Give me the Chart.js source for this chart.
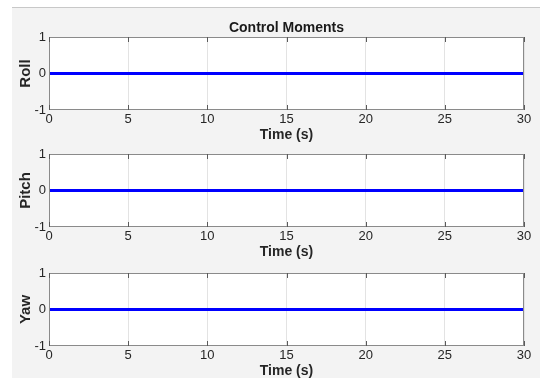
<!DOCTYPE html>
<html>
<head>
<meta charset="utf-8">
<script src="https://cdn.jsdelivr.net/npm/chart.js@4/dist/chart.umd.min.js"></script>
<style>
  html, body { margin: 0; padding: 0; background: #ffffff; width: 540px; height: 378px; overflow: hidden; }
  #fig { position: absolute; left: 12px; top: 7px; width: 528px; height: 371px; background: #f3f3f3;
         border-top: 1px solid #c8c8c8; box-sizing: border-box; }
  canvas { position: absolute; left: 0; }
</style>
</head>
<body>
<div id="fig"></div>
<canvas id="panel0" width="540" height="137" style="top:7px"></canvas>
<canvas id="panel1" width="540" height="137" style="top:124px"></canvas>
<canvas id="panel2" width="540" height="137" style="top:243px"></canvas>
<script>
// Simulation time samples (s) and the three control moment channels
const timeS        = [0, 5, 10, 15, 20, 25, 30];
const rollMoment   = [0, 0, 0, 0, 0, 0, 0];
const pitchMoment  = [0, 0, 0, 0, 0, 0, 0];
const yawMoment    = [0, 0, 0, 0, 0, 0, 0];

const panelNames   = ['Roll', 'Pitch', 'Yaw'];
const xTickValues  = [0, 5, 10, 15, 20, 25, 30];
const yTickValues  = [-1, 0, 1];
const figureTitle  = 'Control Moments';
const xAxisTitle   = 'Time (s)';

const FONT = '"Liberation Sans", Arial, Helvetica, sans-serif';
const series = [rollMoment, pitchMoment, yawMoment];

// White axes background, then box frame with inward tick marks on top/bottom
const axesBox = {
  id: 'axesBox',
  beforeDraw(chart) {
    const a = chart.chartArea, ctx = chart.ctx;
    ctx.save();
    ctx.fillStyle = '#ffffff';
    ctx.fillRect(a.left, a.top, a.right - a.left, a.bottom - a.top);
    ctx.restore();
  },
  afterDraw(chart) {
    const a = chart.chartArea, ctx = chart.ctx, xs = chart.scales.x;
    ctx.save();
    ctx.strokeStyle = '#8a8a8a';
    ctx.lineWidth = 1;
    ctx.strokeRect(Math.round(a.left) + 0.5, Math.round(a.top) + 0.5,
                   Math.round(a.right - a.left) - 1, Math.round(a.bottom - a.top) - 1);
    ctx.strokeStyle = '#5a5a5a';
    ctx.beginPath();
    xTickValues.forEach(v => {
      const px = Math.round(xs.getPixelForValue(v)) + 0.5;
      ctx.moveTo(px, a.top); ctx.lineTo(px, a.top + 5);
      ctx.moveTo(px, a.bottom); ctx.lineTo(px, a.bottom - 5);
    });
    ctx.stroke();
    ctx.restore();
  }
};

panelNames.forEach((name, i) => {
  const first = i === 0;
  new Chart(document.getElementById('panel' + i), {
    type: 'line',
    data: {
      datasets: [{
        data: timeS.map((t, k) => ({ x: t, y: series[i][k] })),
        borderColor: '#0000ff',
        borderWidth: 3,
        pointRadius: 0,
        tension: 0,
        fill: false
      }]
    },
    options: {
      responsive: false,
      animation: false,
      devicePixelRatio: 1,
      layout: { padding: { top: first ? 0 : 30, right: 16, left: 0, bottom: 0 } },
      plugins: {
        legend: { display: false },
        tooltip: { enabled: false },
        title: {
          display: first,
          text: figureTitle,
          fullSize: false,
          color: '#1a1a1a',
          font: { family: FONT, size: 14, weight: 'bold' },
          padding: { top: 12.6, bottom: 0.6 }
        }
      },
      scales: {
        x: {
          type: 'linear',
          min: 0, max: 30,
          afterBuildTicks: s => { s.ticks = xTickValues.map(v => ({ value: v })); },
          afterFit: s => { s.height = 34; },
          border: { display: false },
          grid: { color: '#e3e3e3', drawTicks: false, lineWidth: 1 },
          ticks: { color: '#262626', padding: 2, maxRotation: 0, autoSkip: false,
                   font: { family: FONT, size: 13 } },
          title: { display: true, text: xAxisTitle, color: '#262626',
                   font: { family: FONT, size: 14, weight: 'bold' }, padding: { top: 0, bottom: 0 } }
        },
        y: {
          min: -1, max: 1,
          afterBuildTicks: s => { s.ticks = yTickValues.map(v => ({ value: v })); },
          afterFit: s => { s.width = 49; },
          border: { display: false },
          grid: { display: false, drawTicks: false },
          ticks: { color: '#262626', padding: 3, font: { family: FONT, size: 13 } },
          title: { display: true, text: name, color: '#262626',
                   font: { family: FONT, size: 15, weight: 'bold' }, padding: { top: 17, bottom: 0 } }
        }
      }
    },
    plugins: [axesBox]
  });
});
</script>
</body>
</html>
